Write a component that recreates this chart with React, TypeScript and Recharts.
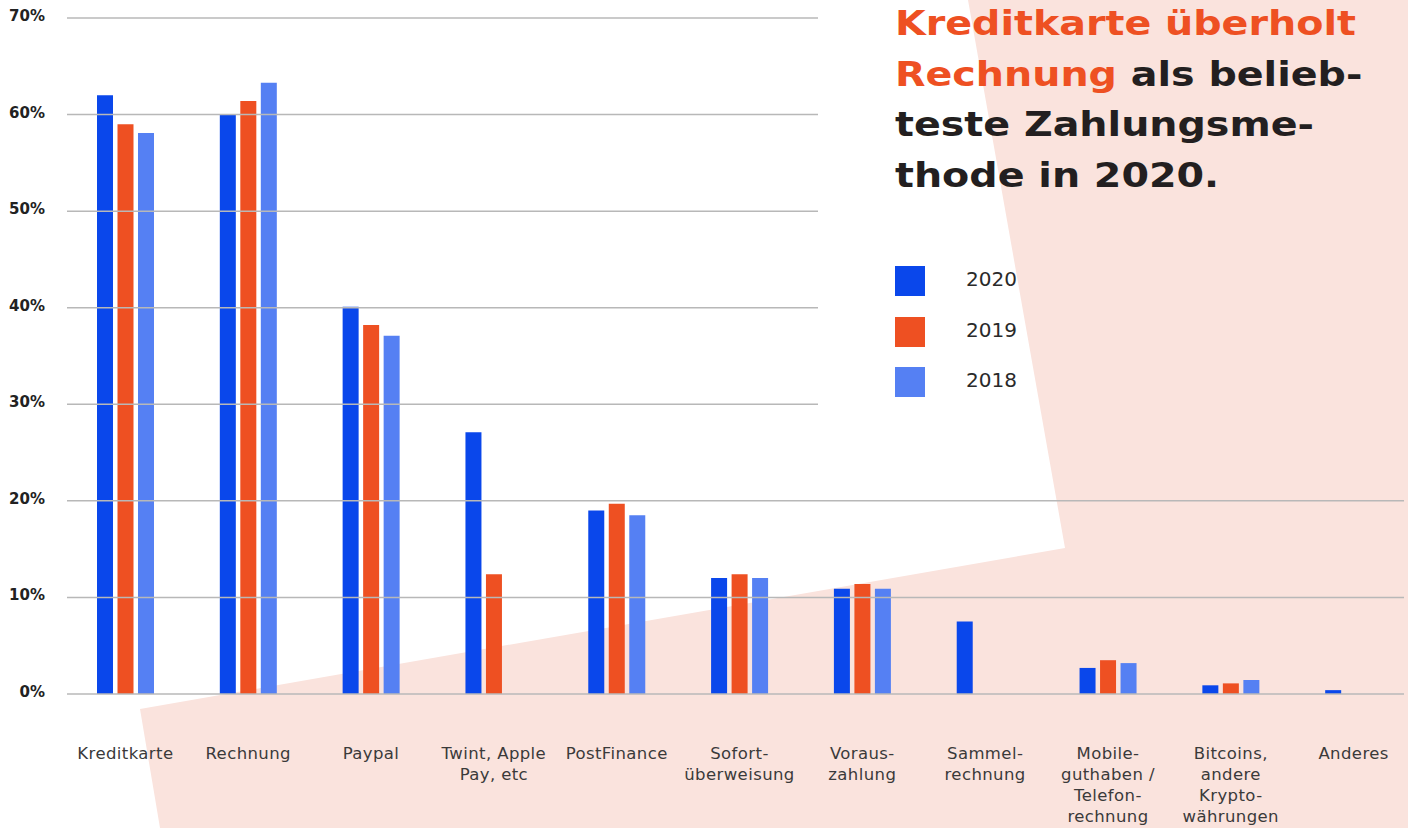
import { BarChart, Bar, XAxis, YAxis, ReferenceLine, Legend } from "recharts";

const categories = [
  "Kreditkarte",
  "Rechnung",
  "Paypal",
  "Twint, Apple\nPay, etc",
  "PostFinance",
  "Sofort-\nüberweisung",
  "Voraus-\nzahlung",
  "Sammel-\nrechnung",
  "Mobile-\nguthaben /\nTelefon-\nrechnung",
  "Bitcoins,\nandere\nKrypto-\nwährungen",
  "Anderes",
];

const v2020 = [62, 60, 40.1, 27.1, 19, 12, 10.9, 7.5, 2.7, 0.9, 0.4];
const v2019 = [59, 61.4, 38.2, 12.4, 19.7, 12.4, 11.4, null, 3.5, 1.1, null];
const v2018 = [58.1, 63.3, 37.1, null, 18.5, 12, 10.9, null, 3.2, 1.45, null];

const yTicks = [0, 10, 20, 30, 40, 50, 60, 70];
const series = [
  { key: "y2020", label: "2020", color: "#0A47EB" },
  { key: "y2019", label: "2019", color: "#EE5022" },
  { key: "y2018", label: "2018", color: "#5580F3" },
];

const data = categories.map((name, i) => ({
  name,
  y2020: v2020[i],
  y2019: v2019[i],
  y2018: v2018[i],
}));

const FONT = "'DejaVu Sans', sans-serif";

function XTick(props: any) {
  const { x, y, payload } = props;
  const lines = String(payload.value).split("\n");
  return (
    <text x={x} y={y + 57} textAnchor="middle" fill="#3a3a3a" fontFamily={FONT} fontSize={16.5} letterSpacing={0.4}>
      {lines.map((l, i) => (
        <tspan key={i} x={x} dy={i === 0 ? 0 : 21}>
          {l}
        </tspan>
      ))}
    </text>
  );
}

function YTick(props: any) {
  const { y, payload } = props;
  return (
    <text x={45} y={y + 3} textAnchor="end" fill="#222" fontFamily={FONT} fontSize={15} fontWeight={600}>
      {payload.value}%
    </text>
  );
}

function LegendContent(props: any) {
  const payload = [...(props.payload || [])].sort(
    (a: any, b: any) =>
      series.findIndex((s) => s.key === a.dataKey) - series.findIndex((s) => s.key === b.dataKey)
  );
  return (
    <div>
      {payload.map((p: any, i: number) => (
        <div key={i} style={{ display: "flex", alignItems: "center", height: 30, marginBottom: 20.5 }}>
          <div style={{ width: 30, height: 30, background: p.color }} />
          <span style={{ marginLeft: 41, marginTop: -4, fontFamily: FONT, fontSize: 20, color: "#2a2a2a" }}>{p.value}</span>
        </div>
      ))}
    </div>
  );
}

function gridShape(end: number) {
  return (p: any) => (
    <line x1={67} y1={p.y1} x2={Math.min(end, p.x2)} y2={p.y2} stroke="#b8b8b8" strokeWidth={1.5} />
  );
}

export default function App() {
  return (
    <div style={{ position: "absolute", left: 0, top: 0, width: 1408, height: 828, overflow: "hidden", background: "#fff" }}>
      <svg width={1408} height={828} style={{ position: "absolute", left: 0, top: 0 }}>
        <polygon points="968,0 1408,0 1408,828 160,828 140,709 1065,548" fill="#FAE3DD" />
      </svg>
      <div style={{ position: "absolute", left: 0, top: 0 }}>
        <BarChart
          width={1420}
          height={828}
          data={data}
          margin={{ top: 18, right: 5, bottom: 0, left: 0 }}
          barSize={16}
          barGap={4.5}
        >
          <XAxis dataKey="name" axisLine={false} tickLine={false} height={134} interval={0} tick={<XTick />} />
          <YAxis
            type="number"
            domain={[0, 70]}
            ticks={yTicks}
            width={64}
            axisLine={false}
            tickLine={false}
            tick={<YTick />}
          />
          {yTicks.map((t) => (
            <ReferenceLine key={t} y={t} shape={gridShape(t <= 20 ? 1404 : 818)} />
          ))}
          <Legend
            layout="vertical"
            verticalAlign="middle"
            align="center"
            wrapperStyle={{ left: 895, top: 266, width: 200 }}
            content={<LegendContent />}
          />
          {series.map((s) => (
            <Bar key={s.key} dataKey={s.key} name={s.label} fill={s.color} isAnimationActive={false} />
          ))}
        </BarChart>
      </div>
      <div
        style={{
          position: "absolute",
          left: 895,
          top: -1,
          fontFamily: FONT,
          fontWeight: 700,
          fontSize: 33,
          lineHeight: "50.5px",
          color: "#231F20",
          transform: "scaleX(1.2)",
          transformOrigin: "left top",
          whiteSpace: "nowrap",
        }}
      >
        <div style={{ color: "#EE5022" }}>Kreditkarte überholt</div>
        <div>
          <span style={{ color: "#EE5022" }}>Rechnung</span> als belieb-
        </div>
        <div>teste Zahlungsme-</div>
        <div>thode in 2020.</div>
      </div>
    </div>
  );
}
